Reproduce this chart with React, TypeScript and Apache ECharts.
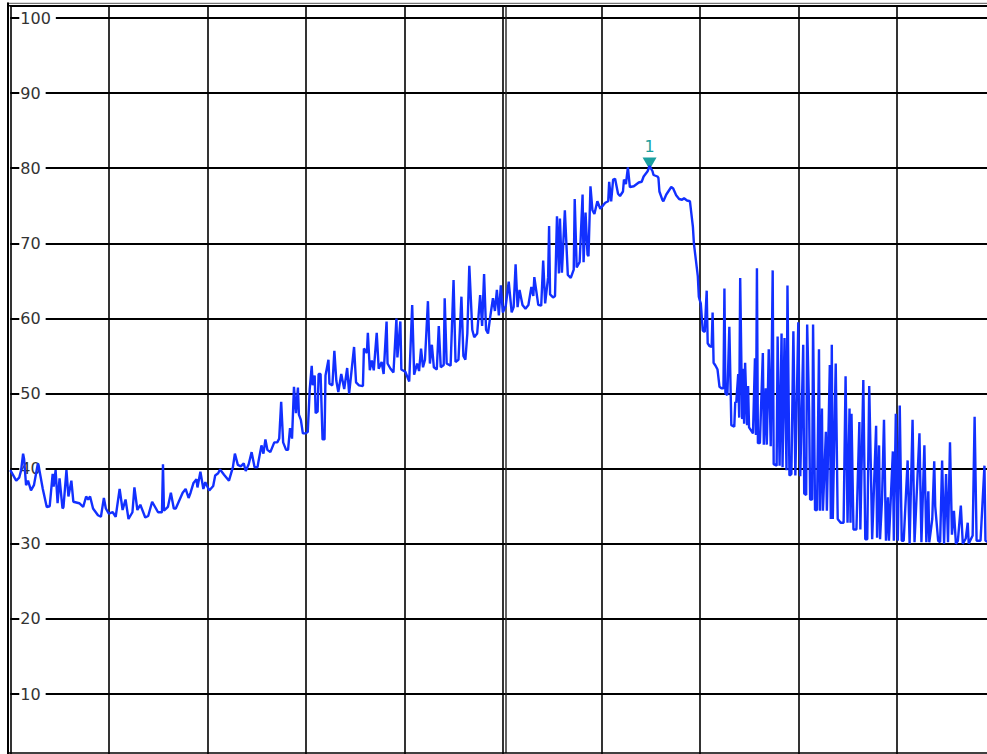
import React, { useEffect, useRef } from "react";
import * as echarts from "echarts";

// Spectrum trace: [bin (0..1000 over 10 divisions), level]
const traceLow: [number, number][] = [
  [0, 39.8], [6, 38.4], [9, 38.8], [11, 39.8], [13, 42.0], [14, 41.3], [16, 37.8], [18, 38.4], [21, 37.1], [24, 37.8],
  [28, 40.7], [29, 40.2], [33, 37.3], [37, 34.9], [40, 35.0], [43, 39.3], [44, 37.6], [46, 39.8], [48, 35.4], [50, 38.7],
  [53, 34.7], [54, 34.9], [57, 39.8], [59, 36.3], [62, 38.4], [64, 35.6], [70, 35.4], [74, 34.9], [77, 36.3], [79, 35.9],
  [81, 36.3], [84, 34.7], [89, 33.8], [92, 33.6], [95, 36.1], [97, 34.7], [100, 34.0], [104, 34.2], [107, 33.6], [111, 37.3],
  [114, 34.5], [117, 35.9], [120, 33.3], [124, 34.2], [126, 37.5], [129, 34.5], [132, 35.2], [137, 33.5], [140, 33.7], [144, 35.6],
  [147, 34.9], [150, 34.2], [154, 34.2], [155, 40.6], [156, 34.4], [160, 34.9], [163, 36.8], [166, 34.7], [168, 34.7], [171, 35.6],
  [175, 36.8], [178, 37.3], [181, 36.1], [183, 36.8], [186, 38.1], [189, 38.6], [190, 37.5], [193, 39.6], [196, 37.3], [198, 38.2],
];

const traceRise: [number, number][] = [
  [202, 37.1], [206, 37.7], [208, 39.1], [211, 39.4], [213, 39.9], [217, 39.2], [222, 38.4], [226, 40.2], [228, 42.0], [231, 40.5],
  [234, 40.3], [237, 40.7], [239, 39.7], [242, 40.6], [245, 42.2], [248, 40.2], [251, 40.2], [252, 41.0], [255, 43.1], [257, 42.0],
  [259, 43.9], [261, 42.5], [264, 42.2], [268, 43.5], [271, 43.5], [273, 44.0], [275, 48.9], [277, 43.5], [280, 42.5], [282, 42.5],
  [284, 45.4], [286, 44.0], [288, 50.9], [290, 47.4], [292, 50.8], [293, 47.2], [295, 46.5], [297, 44.7], [300, 44.7], [302, 44.9],
  [304, 50.6], [306, 53.7], [307, 51.1], [309, 52.4], [310, 47.4], [312, 47.6], [313, 52.6], [315, 52.6], [317, 43.9], [319, 43.9],
  [320, 52.4], [323, 54.5], [324, 51.3], [327, 51.1], [329, 55.7], [331, 51.7], [333, 50.2], [336, 52.6], [339, 50.6], [342, 53.4],
  [344, 50.0], [349, 56.2], [351, 51.5], [354, 51.1], [358, 51.0], [359, 56.0], [362, 55.4], [363, 58.1], [365, 53.1], [367, 54.4],
  [369, 53.1], [372, 58.1], [374, 53.3], [377, 54.2], [379, 52.6], [382, 59.6], [383, 54.0], [386, 53.3], [389, 52.8], [392, 60.0],
  [393, 54.8], [396, 59.6], [397, 53.2],
];

const traceMid: [number, number][] = [
  [401, 52.9], [405, 51.6], [408, 61.8], [410, 52.5], [413, 54.0], [415, 53.0], [417, 56.0], [419, 53.5], [421, 54.5], [424, 62.3],
  [426, 54.0], [428, 56.5], [430, 53.5], [433, 53.2], [435, 59.0], [437, 53.5], [440, 53.8], [441, 62.7], [443, 54.0], [447, 53.7],
  [450, 65.1], [452, 54.2], [455, 54.5], [458, 62.9], [460, 55.0], [462, 54.5], [464, 58.0], [466, 67.0], [469, 58.5], [471, 57.5],
  [474, 58.0], [477, 63.1], [479, 59.0], [481, 65.9], [483, 58.5], [485, 58.0], [487, 60.0], [490, 62.7], [492, 61.0], [494, 63.8],
  [496, 60.4], [498, 64.4], [500, 60.8], [503, 61.7], [506, 64.9], [509, 60.8], [511, 61.5], [513, 67.2], [515, 61.5], [517, 63.8],
  [520, 61.8], [523, 61.3], [526, 61.8], [529, 64.2], [531, 63.0], [532, 65.5], [536, 61.8], [539, 61.7], [541, 67.7], [543, 62.0],
  [546, 65.5], [547, 72.3], [548, 63.2], [551, 62.8], [553, 63.0], [555, 73.6], [557, 66.0], [558, 73.3], [560, 66.1], [563, 74.4],
  [566, 65.8], [569, 65.4], [572, 66.5], [573, 75.9], [575, 66.8], [578, 67.5], [581, 76.5], [582, 67.5], [584, 74.1], [586, 68.5],
  [587, 68.3], [589, 77.6], [591, 74.4], [593, 73.9], [596, 75.6], [599, 74.6],
];

const tracePeak: [number, number][] = [
  [604, 75.4], [607, 75.6], [608, 78.2], [610, 75.6], [612, 78.5], [614, 78.6], [617, 76.6], [619, 76.3], [622, 76.9], [623, 78.5],
  [625, 77.9], [627, 80.1], [629, 77.5], [633, 77.6], [638, 78.1], [641, 78.2], [643, 78.9], [647, 79.6], [649, 80.3], [652, 79.6],
  [653, 79.1], [657, 78.9], [658, 78.7], [659, 76.9], [662, 75.8], [663, 75.6], [666, 76.5], [671, 77.5], [673, 77.3], [676, 76.4],
  [679, 75.9], [682, 75.8], [684, 76.0], [687, 75.7], [690, 75.6], [693, 72.2], [694, 70.0], [696, 67.8], [698, 65.6], [699, 62.9],
  [700, 62.4], [701, 62.0], [703, 58.4], [704, 58.3], [705, 58.2], [707, 63.7], [708, 56.7], [710, 56.3], [712, 56.2], [713, 60.8],
  [714, 54.1], [716, 53.7], [718, 53.2], [720, 50.9], [722, 50.7], [724, 50.7], [725, 64.0], [726, 50.0], [728, 49.8], [730, 58.9],
  [732, 45.8], [735, 45.6], [736, 48.9], [737, 48.8], [739, 52.6], [740, 46.8], [741, 65.4], [743, 46.6], [744, 53.3], [745, 46.0],
  [746, 54.1], [748, 45.8], [749, 51.0], [750, 45.5], [754, 44.7], [756, 54.7], [757, 44.5], [758, 66.7], [759, 43.4], [761, 43.4],
  [764, 55.4], [765, 43.2], [767, 50.7], [768, 43.2], [770, 55.9], [772, 43.0], [774, 66.4], [775, 40.6], [778, 40.4], [779, 57.6],
  [781, 40.4], [783, 58.0], [784, 40.2], [786, 57.4], [788, 39.8], [789, 64.4], [791, 39.1], [793, 39.3], [795, 58.3], [797, 39.1],
];

const traceHigh: [number, number][] = [
  [800, 59.5], [802, 39.0], [805, 56.5], [806, 36.7], [808, 36.5], [809, 59.2], [811, 47.6], [812, 35.9], [814, 35.9], [815, 59.2],
  [817, 34.5], [819, 34.5], [821, 55.9], [822, 34.4], [824, 48.0], [825, 34.4], [828, 44.9], [829, 34.4], [832, 53.8], [833, 33.3],
  [834, 56.5], [835, 33.3], [838, 54.0], [840, 33.3], [843, 32.8], [846, 32.8], [848, 52.3], [850, 32.8], [852, 48.0], [853, 32.8],
  [854, 47.3], [856, 31.9], [859, 31.9], [862, 46.2], [863, 31.9], [866, 51.8], [868, 30.6], [870, 30.6], [872, 51.0], [874, 37.8],
  [875, 30.6], [879, 45.7], [880, 30.8], [882, 43.1], [883, 30.6], [885, 35.9], [887, 46.5], [889, 30.4], [891, 36.2], [892, 30.4],
  [896, 42.3], [897, 30.4], [899, 47.3], [901, 30.4], [903, 48.4], [905, 30.4], [907, 30.4], [911, 41.1], [913, 30.0], [916, 46.5],
  [918, 30.2], [923, 44.7], [925, 30.2], [928, 43.1], [930, 30.2], [932, 37.0], [933, 30.2], [936, 33.3], [938, 41.0], [939, 35.0],
  [942, 30.4], [944, 30.2], [946, 41.1], [948, 30.0], [950, 39.3], [952, 30.2], [954, 43.5], [956, 31.2], [958, 34.4], [960, 30.0],
  [962, 30.4], [965, 35.1], [967, 30.0], [970, 30.7], [972, 32.8], [973, 30.0], [977, 31.1], [979, 46.9], [981, 30.4], [985, 30.4],
  [989, 40.4], [990, 30.4], [993, 30.2],
];

const markerLabel = "1";
const yTickValues = [10, 20, 30, 40, 50, 60, 70, 80, 90, 100];

export default function App() {
  const ref = useRef<HTMLDivElement>(null);

  useEffect(() => {
    if (!ref.current) return;
    const chart = echarts.init(ref.current, null, { renderer: "svg" });

    const gridLeft = 10.3;
    const gridTop = 5.7;
    const yMax = 101.64;
    const pxPer10 = 75.11;
    const gridHeight = (yMax / 10) * pxPer10;
    const teal = "#1a9f9f";
    const data = [...traceLow, ...traceRise, ...traceMid, ...tracePeak, ...traceHigh];

    chart.setOption({
      animation: false,
      backgroundColor: "#ffffff",
      grid: {
        left: gridLeft,
        top: gridTop,
        width: 985,
        height: gridHeight,
        containLabel: false,
        outerBoundsMode: "none",
      },
      xAxis: {
        type: "value",
        min: 0,
        max: 1000,
        interval: 100,
        axisLine: { show: false },
        axisTick: { show: false },
        axisLabel: { show: false },
        splitLine: { show: true, lineStyle: { color: "#000", width: 1.6 } },
      },
      yAxis: {
        type: "value",
        min: 0,
        max: yMax,
        interval: 10,
        axisLine: { show: false },
        axisTick: { show: false },
        axisLabel: {
          inside: true,
          margin: 9,
          showMaxLabel: false,
          showMinLabel: false,
          color: "#333",
          fontSize: 16,
          fontFamily: "DejaVu Sans",
          backgroundColor: "#ffffff",
          padding: [1, 5, 1, 1],
          formatter: (v: number) => (yTickValues.indexOf(Math.round(v * 100) / 100) >= 0 ? String(v) : ""),
        },
        splitLine: { show: true, lineStyle: { color: "#000", width: 1.8 } },
      },
      series: [
        {
          type: "line",
          data,
          showSymbol: false,
          symbol: "none",
          lineStyle: { color: "#1230ff", width: 2.4 },
          z: 5,
          markPoint: {
            symbol: "triangle",
            symbolSize: [14, 12],
            symbolRotate: 180,
            symbolOffset: [0, -2.5],
            itemStyle: { color: teal },
            label: {
              show: true,
              position: "top",
              distance: 3,
              formatter: markerLabel,
              color: teal,
              fontSize: 16,
              fontFamily: "DejaVu Sans",
            },
            data: [{ type: "max", name: "M1" }],
          },
        },
      ],
      graphic: [
        { type: "rect", shape: { x: 0, y: 0, width: 987, height: 2.4 }, style: { fill: "#fff" }, z: 100 },
        { type: "line", shape: { x1: 7, y1: 3.3, x2: 987, y2: 3.3 }, style: { stroke: "#777", lineWidth: 1.3 }, z: 101 },
        { type: "line", shape: { x1: 7, y1: 5.7, x2: 987, y2: 5.7 }, style: { stroke: "#000", lineWidth: 1.6 }, z: 101 },
        { type: "line", shape: { x1: 8, y1: 2.6, x2: 8, y2: 754 }, style: { stroke: "#000", lineWidth: 2 }, z: 101 },
        { type: "line", shape: { x1: 7, y1: 753, x2: 987, y2: 753 }, style: { stroke: "#000", lineWidth: 1.6 }, z: 101 },
        { type: "line", shape: { x1: 506, y1: 5.7, x2: 506, y2: 753 }, style: { stroke: "#222", lineWidth: 1.4 }, z: 1 },
      ],
    });

    return () => chart.dispose();
  }, []);

  return (
    <div
      ref={ref}
      style={{ position: "fixed", left: 0, top: 0, width: 987, height: 754, background: "#fff" }}
    />
  );
}
